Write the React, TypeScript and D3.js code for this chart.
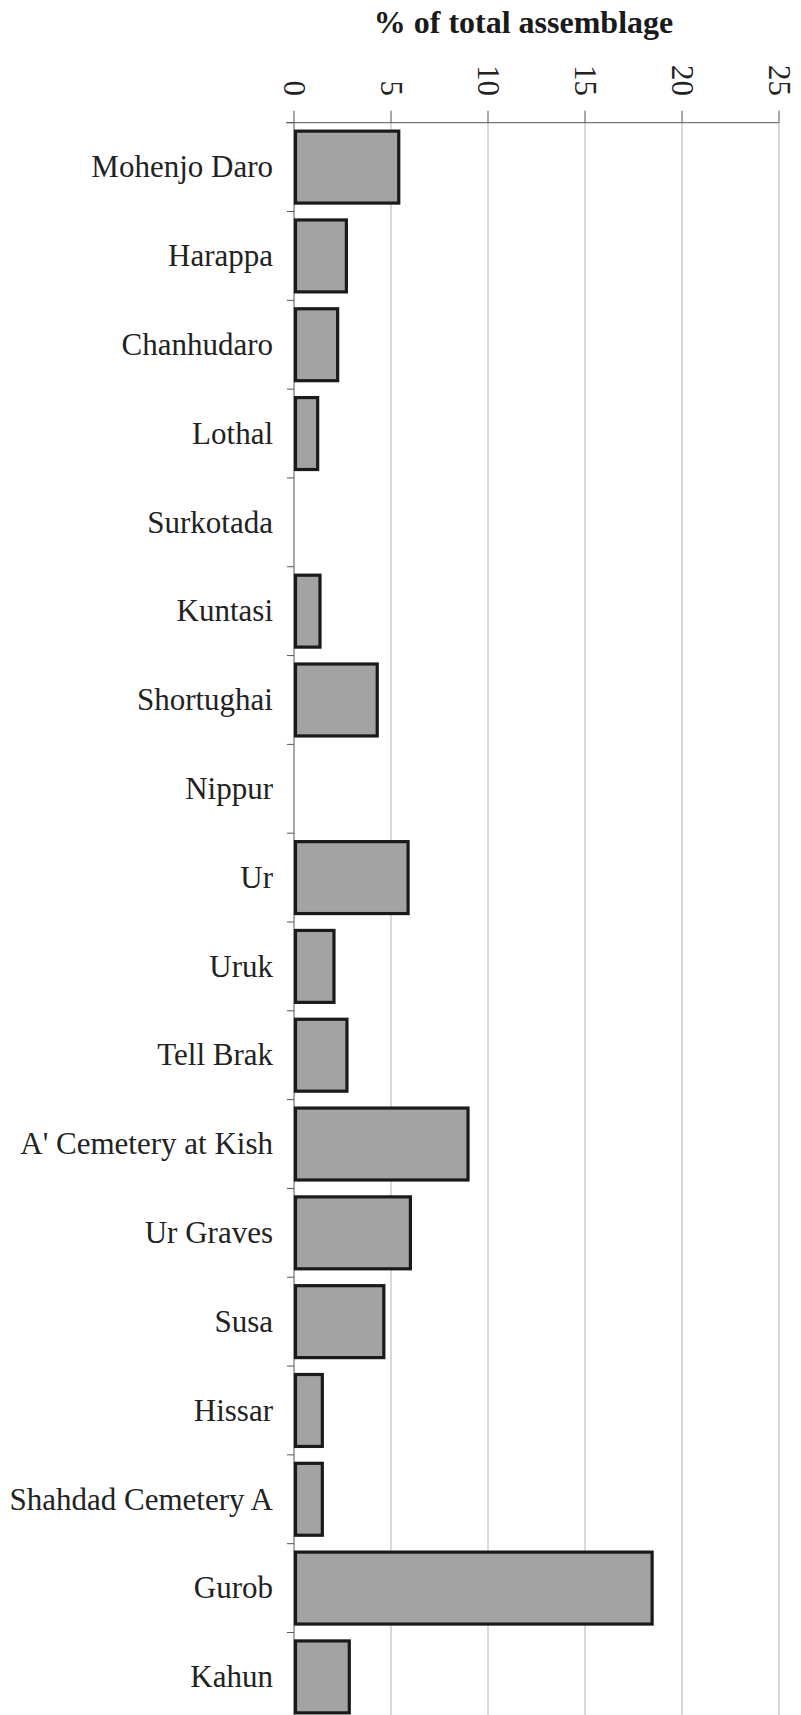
import React from "react";
import * as d3 from "d3";

const categories = [
  "Mohenjo Daro", "Harappa", "Chanhudaro", "Lothal", "Surkotada", "Kuntasi",
  "Shortughai", "Nippur", "Ur", "Uruk", "Tell Brak", "A' Cemetery at Kish",
  "Ur Graves", "Susa", "Hissar", "Shahdad Cemetery A", "Gurob", "Kahun",
];
const values = [5.4, 2.7, 2.25, 1.22, 0, 1.34, 4.29, 0, 5.88, 2.06, 2.73, 8.97, 6.0, 4.63, 1.46, 1.46, 18.46, 2.85];
const tickValues = [0, 5, 10, 15, 20, 25];
const title = "% of total assemblage";

const W = 801;
const H = 1715;
const FONT = "Liberation Serif";

export default function App() {
  const x = d3.scaleLinear().domain([0, 25]).range([294, 779]);
  const y = d3
    .scaleBand<string>()
    .domain(categories)
    .range([122.7, 1721.3])
    .paddingInner(0.19)
    .paddingOuter(0.095);
  const step = y.step();
  const y0 = y.range()[0];
  const axisY = y0;
  const bottom = H + 10;

  return (
    <div style={{ position: "absolute", left: 0, top: 0 }}>
      <svg width={W} height={H} style={{ display: "block", background: "#fff" }}>
        {/* title */}
        <text x={523.5} y={33} textAnchor="middle" style={{ fontFamily: FONT }} fontWeight="bold" fontSize={32} fill="#1a1a1a">
          {title}
        </text>
        {/* grid lines */}
        {tickValues.filter((t) => t > 0).map((t) => (
          <line key={"g" + t} x1={x(t)} x2={x(t)} y1={axisY} y2={bottom} stroke="#b4b4b4" strokeWidth={1} />
        ))}
        {/* top axis ticks + labels */}
        {tickValues.map((t) => (
          <g key={"t" + t}>
            <line x1={x(t)} x2={x(t)} y1={axisY - 12} y2={axisY} stroke="#555" strokeWidth={1} />
            <text
              transform={`translate(${x(t)},96) rotate(90)`}
              textAnchor="end"
              dy="0.33em"
              style={{ fontFamily: FONT }}
              fontSize={31}
              fill="#222"
            >
              {t}
            </text>
          </g>
        ))}
        {/* axis lines */}
        <line x1={286} x2={x(25)} y1={axisY} y2={axisY} stroke="#555" strokeWidth={1} />
        <line x1={x(0)} x2={x(0)} y1={axisY} y2={bottom} stroke="#555" strokeWidth={1} />
        {/* category ticks */}
        {d3.range(categories.length + 1).map((i) => (
          <line key={"c" + i} x1={287} x2={x(0)} y1={y0 + i * step} y2={y0 + i * step} stroke="#555" strokeWidth={1} />
        ))}
        {/* bars */}
        {categories.map((c, i) =>
          values[i] > 0 ? (
            <rect
              key={"b" + c}
              x={x(0) + 1.5}
              y={y(c)!}
              width={x(values[i]) - x(0) - 1.5}
              height={y.bandwidth()}
              fill="#a3a3a3"
              stroke="#1a1a1a"
              strokeWidth={3.2}
            />
          ) : null
        )}
        {/* category labels */}
        {categories.map((c) => (
          <text
            key={"l" + c}
            x={273}
            y={y(c)! + y.bandwidth() / 2}
            dy="0.33em"
            textAnchor="end"
            style={{ fontFamily: FONT }}
            fontSize={31}
            fill="#222"
          >
            {c}
          </text>
        ))}
      </svg>
    </div>
  );
}
